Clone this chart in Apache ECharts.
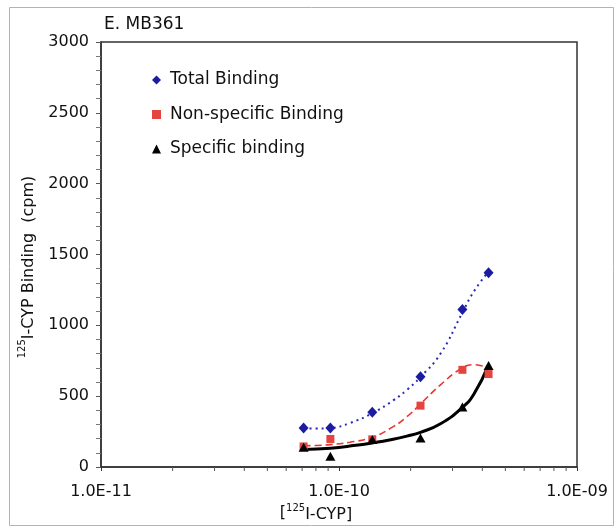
<!DOCTYPE html>
<html>
<head>
<meta charset="utf-8">
<script src="https://cdn.jsdelivr.net/npm/echarts@6/dist/echarts.min.js"></script>
<style>
html,body{margin:0;padding:0;background:#fff;}
#chart{width:616px;height:527px;}
</style>
</head>
<body>
<div id="chart"></div>
<script>
// ---- data ----
const concentrations = [7.1e-11, 9.2e-11, 1.38e-10, 2.2e-10, 3.3e-10, 4.25e-10];
const totalBinding = [276, 276, 386, 637, 1111, 1371];
const nonSpecificBinding = [145, 198, 195, 433, 686, 656];
const specificBinding = [139, 76, 194, 205, 424, 717];

// trendline curves
const trendX = [7.1e-11, 8.05e-11, 9.2e-11, 1.11e-10, 1.38e-10, 1.69e-10, 1.93e-10, 2.2e-10, 2.67e-10, 3.3e-10, 3.69e-10, 4.25e-10];
const totalTrend = [274, 271, 275, 310, 380, 470, 545, 635, 800, 1090, 1240, 1380];
const nonSpecificTrend = [150, 152, 158, 175, 210, 285, 355, 445, 580, 700, 722, 700];
const specificTrend = [123, 127, 133, 148, 170, 196, 218, 245, 305, 420, 515, 721];

const seriesNames = ['Total Binding', 'Non-specific Binding', 'Specific binding'];
const xMinorTicks = [2e-11, 3e-11, 4e-11, 5e-11, 6e-11, 7e-11, 8e-11, 9e-11, 2e-10, 3e-10, 4e-10, 5e-10, 6e-10, 7e-10, 8e-10, 9e-10];
const yTicks = {min: 0, max: 3000, interval: 500};

const FONT = 'DejaVu Sans';
const pair = (xs, ys) => xs.map((x, i) => [x, ys[i]]);

const chart = echarts.init(document.getElementById('chart'), null, {renderer: 'canvas'});
chart.setOption({
  animation: false,
  backgroundColor: '#fff',
  textStyle: {fontFamily: FONT},
  grid: {left: 101, top: 42, right: 39, bottom: 60, show: true, borderColor: '#333', borderWidth: 1.5, backgroundColor: 'transparent'},
  legend: {
    orient: 'vertical', left: 147, top: 65,
    itemWidth: 9, itemHeight: 9, itemGap: 14.5,
    data: [
      {name: seriesNames[0], icon: 'diamond', itemStyle: {color: '#1c1ca3', opacity: 1}},
      {name: seriesNames[1], icon: 'rect', itemStyle: {color: '#e5453f', opacity: 1}},
      {name: seriesNames[2], icon: 'triangle', itemStyle: {color: '#000', opacity: 1}}
    ],
    textStyle: {fontFamily: FONT, fontSize: 17, color: '#111', lineHeight: 20, padding: [0, 0, 0, 4]}
  },
  xAxis: {
    type: 'log', logBase: 10, min: 1e-11, max: 1e-9,
    axisLine: {lineStyle: {color: '#333', width: 1.5}},
    axisTick: {show: true, length: 4, lineStyle: {color: '#333'}},
    splitLine: {show: false},
    axisLabel: {
      fontFamily: FONT, fontSize: 16, color: '#111', margin: 17,
      formatter: v => {
        const e = Math.round(Math.log10(v));
        return '1.0E' + (e < 0 ? '-' : '+') + String(Math.abs(e)).padStart(2, '0');
      }
    }
  },
  yAxis: {
    type: 'value', min: yTicks.min, max: yTicks.max, interval: yTicks.interval,
    axisLine: {show: true, lineStyle: {color: '#333', width: 1.5}},
    axisTick: {show: true, length: 5, lineStyle: {color: '#555'}},
    minorTick: {show: true, splitNumber: 5, length: 5, lineStyle: {color: '#777'}},
    splitLine: {show: false},
    axisLabel: {fontFamily: FONT, fontSize: 16, color: '#111', margin: 12, formatter: v => String(v)}
  },
  series: [
    {name: 'trend-total', type: 'line', data: pair(trendX, totalTrend), smooth: true, showSymbol: false, symbol: 'none',
      lineStyle: {color: '#2a2ab8', width: 2, type: [2, 4]}, z: 1, silent: true},
    {name: 'trend-nonspecific', type: 'line', data: pair(trendX, nonSpecificTrend), smooth: true, showSymbol: false, symbol: 'none',
      lineStyle: {color: '#e8352e', width: 1.6, type: [7, 4]}, z: 1, silent: true},
    {name: 'trend-specific', type: 'line', data: pair(trendX, specificTrend), smooth: true, showSymbol: false, symbol: 'none',
      lineStyle: {color: '#000', width: 3}, z: 1, silent: true},
    {name: seriesNames[0], type: 'scatter', data: pair(concentrations, totalBinding), symbol: 'diamond', symbolSize: [10, 11],
      itemStyle: {color: '#1c1ca3', opacity: 1}, z: 3},
    {name: seriesNames[1], type: 'scatter', data: pair(concentrations, nonSpecificBinding), symbol: 'rect', symbolSize: 8,
      itemStyle: {color: '#e5453f', opacity: 1}, z: 3},
    {name: seriesNames[2], type: 'scatter', data: pair(concentrations, specificBinding), symbol: 'triangle', symbolSize: [10, 9],
      itemStyle: {color: '#000', opacity: 1}, z: 4},
    {name: 'x-minor-ticks', type: 'custom', data: xMinorTicks.map(v => [v, 0]), clip: false, silent: true, z: 5,
      renderItem: (params, api) => {
        const p = api.coord([api.value(0), 0]);
        return {type: 'line', shape: {x1: p[0], y1: p[1], x2: p[0], y2: p[1] + 4}, style: {stroke: '#555', lineWidth: 1}};
      }}
  ],
  graphic: [
    {type: 'rect', shape: {x: 9.5, y: 7.5, width: 604, height: 518}, style: {fill: 'none', stroke: '#b3b3b3', lineWidth: 1}, silent: true, z: -1},
    {type: 'text', x: 104, y: 25, style: {text: 'E. MB361', font: '17px "DejaVu Sans"', fill: '#111', verticalAlign: 'middle', align: 'left'}},
    {type: 'text', x: 316, y: 513,
      style: {text: '[{sup|125}{b|I-CYP]}', align: 'center', verticalAlign: 'middle', fill: '#111',
        rich: {b: {fontFamily: FONT, fontSize: 16, lineHeight: 20, verticalAlign: 'bottom', fill: '#111'},
               sup: {fontFamily: FONT, fontSize: 10, lineHeight: 10, verticalAlign: 'top', fill: '#111'}},
        fontFamily: FONT, fontSize: 16, lineHeight: 20}},
    {type: 'text', x: 27, y: 267, rotation: Math.PI / 2,
      style: {text: '{sup|125}{b|I-CYP Binding  (cpm)}', align: 'center', verticalAlign: 'middle', fill: '#111',
        rich: {b: {fontFamily: FONT, fontSize: 16, lineHeight: 20, verticalAlign: 'bottom', fill: '#111'},
               sup: {fontFamily: FONT, fontSize: 10, lineHeight: 10, verticalAlign: 'top', fill: '#111'}},
        fontFamily: FONT, fontSize: 16, lineHeight: 20}}
  ]
});
</script>
</body>
</html>
